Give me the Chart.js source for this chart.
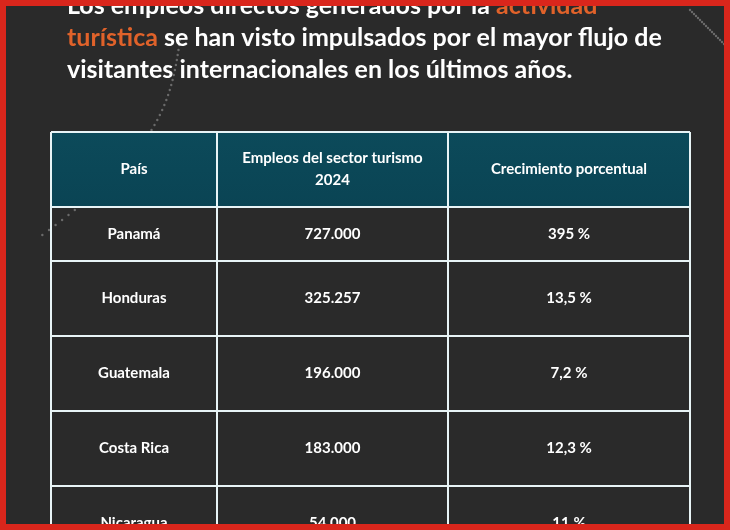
<!DOCTYPE html>
<html>
<head>
<meta charset="utf-8">
<script src="https://cdn.jsdelivr.net/npm/chart.js@4"></script>
<style>
  html, body { margin: 0; padding: 0; background: #2a2a2a; }
  #wrap { width: 730px; height: 530px; position: relative; }
</style>
</head>
<body>
<div id="wrap"><canvas id="tabla" width="730" height="530"></canvas></div>
<script>
// datos de la tabla
const columnas = ['País', 'Empleos del sector turismo\n2024', 'Crecimiento porcentual'];
const paises = ['Panamá', 'Honduras', 'Guatemala', 'Costa Rica', 'Nicaragua'];
const empleos = ['727.000', '325.257', '196.000', '183.000', '54.000'];
const crecimiento = ['395 %', '13,5 %', '7,2 %', '12,3 %', '11 %'];

// layout (pixeles)
const colX = [51, 217, 448, 690];
const rowY = [132, 207, 261, 336, 411, 486, 561];

const tablaPlugin = {
    id: 'tabla',
    beforeDraw(chart) {
        const c = chart.ctx;
        c.save();
        c.fillStyle = '#2a2a2a';
        c.fillRect(0, 0, 730, 530);

        // lineas punteadas decorativas
        c.fillStyle = 'rgba(150,150,150,0.6)';
        for (let i = 0; i < 40; i++) {
            const t = i / 40;
            c.beginPath();
            c.arc(180 - t * 150 + 40 * Math.sin(t * 3), 40 + t * 200, 1.2, 0, Math.PI * 2);
            c.fill();
        }
        for (let i = 0; i < 20; i++) {
            const t = i / 20;
            c.beginPath();
            c.arc(690 + t * 40, 10 + t * 40, 1.2, 0, Math.PI * 2);
            c.fill();
        }

        // titulo
        c.font = 'bold 25px Lato';
        c.textBaseline = 'middle';
        c.textAlign = 'left';
        const linea = (partes, y) => {
            let x = 67;
            partes.forEach(([txt, col]) => {
                c.fillStyle = col;
                c.fillText(txt, x, y);
                x += c.measureText(txt).width;
            });
        };
        linea([['Los empleos directos generados por la ', '#ffffff'], ['actividad', '#e0622a']], 6);
        linea([['turística', '#e0622a'], [' se han visto impulsados por el mayor flujo de', '#ffffff']], 38);
        linea([['visitantes internacionales en los últimos años.', '#ffffff']], 70);

        // encabezado
        const grad = c.createLinearGradient(0, rowY[0], 0, rowY[1]);
        grad.addColorStop(0, '#0c4a5a');
        grad.addColorStop(1, '#0a4454');
        c.fillStyle = grad;
        c.fillRect(colX[0], rowY[0], colX[3] - colX[0], rowY[1] - rowY[0]);

        c.textAlign = 'center';
        c.fillStyle = '#ffffff';
        c.font = 'bold 15px Lato';
        columnas.forEach((txt, i) => {
            const cx = (colX[i] + colX[i + 1]) / 2;
            const cy = (rowY[0] + rowY[1]) / 2;
            const ls = txt.split('\n');
            ls.forEach((l, j) => c.fillText(l, cx, cy + (j - (ls.length - 1) / 2) * 22));
        });

        paises.forEach((p, r) => {
            const cy = (rowY[r + 1] + rowY[r + 2]) / 2;
            [p, empleos[r], crecimiento[r]].forEach((txt, i) => {
                c.fillText(txt, (colX[i] + colX[i + 1]) / 2, cy);
            });
        });

        // bordes
        c.strokeStyle = '#e8f4f6';
        c.lineWidth = 2;
        colX.forEach(x => { c.beginPath(); c.moveTo(x, rowY[0]); c.lineTo(x, 530); c.stroke(); });
        rowY.forEach(y => { c.beginPath(); c.moveTo(colX[0], y); c.lineTo(colX[3], y); c.stroke(); });

        // marco rojo
        c.strokeStyle = '#d9261c';
        c.lineWidth = 8;
        c.strokeRect(2, 2, 726, 526);
        c.restore();
    }
};

new Chart(document.getElementById('tabla'), {
    type: 'bar',
    data: { labels: paises, datasets: [] },
    options: {
        responsive: false,
        animation: false,
        plugins: { legend: { display: false }, tooltip: { enabled: false } },
        scales: { x: { display: false }, y: { display: false } }
    },
    plugins: [tablaPlugin]
});
</script>
</body>
</html>
